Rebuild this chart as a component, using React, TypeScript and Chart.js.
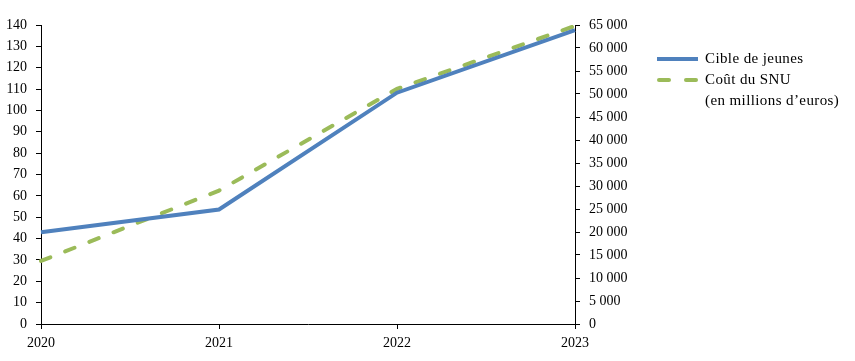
import React, { useEffect, useRef } from "react";
import { Chart, registerables } from "chart.js";

Chart.register(...registerables);

const years = ["2020", "2021", "2022", "2023"];
const cibleJeunes = [43, 53.6, 108.3, 137.6];
const coutSNU = [13700, 29000, 51100, 64800];
const leftTicks = { min: 0, max: 140, step: 10 };
const rightTicks = { min: 0, max: 65000, step: 5000 };

const FONT = "'Liberation Serif', serif";
const BLUE = "#4F81BD";
const GREEN = "#9BBB59";

const fmt = (v: number) => {
  const s = Math.round(v).toString();
  return s.replace(/\B(?=(\d{3})+(?!\d))/g, " ");
};

export default function App() {
  const ref = useRef<HTMLCanvasElement>(null);
  useEffect(() => {
    if (!ref.current) return;
    const chart = new Chart(ref.current, {
      type: "line",
      data: {
        labels: years,
        datasets: [
          {
            label: "Cible de jeunes",
            data: cibleJeunes,
            borderColor: BLUE,
            backgroundColor: BLUE,
            borderWidth: 4,
            pointRadius: 0,
            tension: 0,
            yAxisID: "y",
          },
          {
            label: "Coût du SNU (en millions d'euros)",
            data: coutSNU,
            borderColor: GREEN,
            backgroundColor: GREEN,
            borderWidth: 4,
            borderDash: [10, 16],
            borderCapStyle: "round",
            pointRadius: 0,
            tension: 0,
            yAxisID: "y2",
          },
        ],
      },
      options: {
        animation: false,
        responsive: false,
        maintainAspectRatio: false,
        layout: { padding: { top: 25, left: 0, right: 0, bottom: 0 } },
        plugins: { legend: { display: false }, tooltip: { enabled: false } },
        scales: {
          x: {
            type: "category",
            offset: false,
            grid: { drawOnChartArea: false, drawTicks: true, tickLength: 5, color: "#000" },
            border: { display: true, color: "#000", width: 1 },
            ticks: { color: "#000", font: { family: FONT, size: 14 }, padding: 6, maxRotation: 0 },
            afterFit: (s: any) => { s.height = 37; },
          },
          y: {
            position: "left",
            min: leftTicks.min,
            max: leftTicks.max,
            grid: { drawOnChartArea: false, drawTicks: true, tickLength: 5, color: "#000" },
            border: { display: true, color: "#000", width: 1 },
            ticks: { stepSize: leftTicks.step, color: "#000", font: { family: FONT, size: 14 }, padding: 9 },
            afterFit: (s: any) => { s.width = 41; },
          },
          y2: {
            position: "right",
            min: rightTicks.min,
            max: rightTicks.max,
            grid: { drawOnChartArea: false, drawTicks: true, tickLength: 5, color: "#000" },
            border: { display: true, color: "#000", width: 1 },
            ticks: {
              stepSize: rightTicks.step,
              color: "#000",
              font: { family: FONT, size: 14 },
              padding: 9,
              callback: (v: any) => fmt(Number(v)),
            },
            afterFit: (s: any) => { s.width = 280; },
          },
        },
      },
    });
    return () => chart.destroy();
  }, []);

  const textStyle: React.CSSProperties = {
    fontFamily: FONT,
    fontSize: 15,
    color: "#000",
    lineHeight: "21px",
    letterSpacing: "0.4px",
    whiteSpace: "nowrap",
  };

  return (
    <div style={{ position: "fixed", left: 0, top: 0, width: 855, height: 361, background: "#fff" }}>
      <canvas ref={ref} width={855} height={361} style={{ position: "absolute", left: 0, top: 0 }} />
      <div style={{ position: "absolute", left: 657, top: 48, ...textStyle }}>
        <div style={{ display: "flex", alignItems: "center" }}>
          <span style={{ display: "inline-block", width: 41, height: 4, background: BLUE, marginRight: 7 }} />
          <span>Cible de jeunes</span>
        </div>
        <div style={{ display: "flex", alignItems: "center" }}>
          <span style={{ display: "inline-flex", width: 41, marginRight: 7, justifyContent: "space-between" }}>
            <span style={{ display: "inline-block", width: 14, height: 4, borderRadius: 2, background: GREEN }} />
            <span style={{ display: "inline-block", width: 14, height: 4, borderRadius: 2, background: GREEN }} />
          </span>
          <span>Coût du SNU</span>
        </div>
        <div style={{ paddingLeft: 48 }}>(en millions d’euros)</div>
      </div>
    </div>
  );
}
